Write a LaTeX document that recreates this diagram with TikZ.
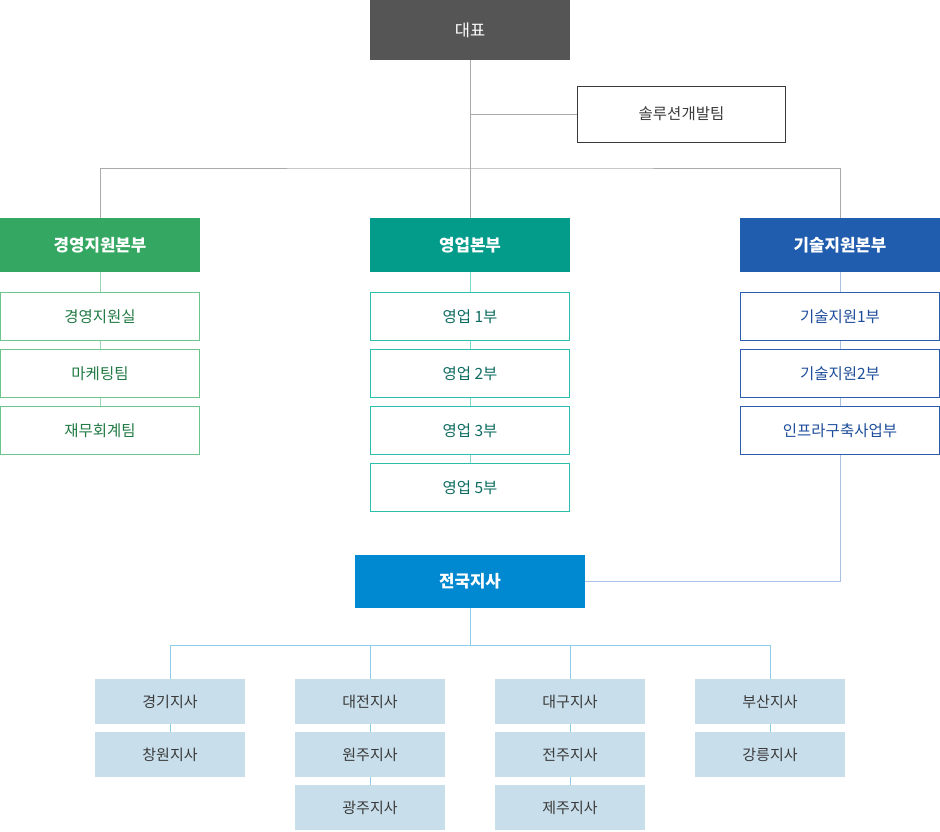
\documentclass[tikz,border=0pt]{standalone}
\usepackage{fontspec}
\setmainfont{Noto Sans CJK KR}
\usepackage{tikz}
\usepackage{xcolor}
\usetikzlibrary{positioning,calc}
\definecolor{ceobg}{HTML}{555555}
\definecolor{ink}{HTML}{3A3A3A}
\definecolor{trunk}{HTML}{AAAAAA}
\definecolor{mgmt}{HTML}{34A862}
\definecolor{mgmtln}{HTML}{6CC58C}
\definecolor{mgmttx}{HTML}{217A44}
\definecolor{sales}{HTML}{039B8A}
\definecolor{salesln}{HTML}{2CBFAE}
\definecolor{salestx}{HTML}{0C6B60}
\definecolor{tech}{HTML}{215DAE}
\definecolor{techln}{HTML}{2A5EAD}
\definecolor{techtx}{HTML}{1E4D9B}
\definecolor{techwire}{HTML}{A9C1E4}
\definecolor{branch}{HTML}{0089D1}
\definecolor{brbg}{HTML}{C8DEEB}
\definecolor{brwire}{HTML}{8DCDEA}

\begin{document}
\begin{tikzpicture}[x=1pt,y=-1pt,font=\fontsize{15.5}{17}\selectfont,
  n0/.style={rectangle,fill=ceobg,text=white,minimum width=200pt,minimum height=60pt,inner sep=0pt,
             font=\fontsize{16.5}{18}\selectfont},
  n1/.style={rectangle,draw=ink,line width=1pt,text=ink,minimum width=208pt,minimum height=56pt,inner sep=0pt},
  hd/.style={rectangle,fill=#1,text=white,minimum width=200pt,minimum height=54pt,inner sep=0pt,
             font=\fontsize{16.8}{18}\selectfont\bfseries},
  sb/.style={rectangle,draw=#1ln,fill=white,text=#1tx,line width=1pt,minimum width=199pt,minimum height=48pt,inner sep=0pt},
  br/.style={rectangle,fill=brbg,text=ink,minimum width=150pt,minimum height=45pt,inner sep=0pt,
             font=\fontsize{15}{17}\selectfont},
  wire/.style={draw=#1,line width=1pt}]
  \useasboundingbox (0,0) rectangle (940,831);

  % top
  \node[n0] (ceo) at (470,30) {대표};
  \node[n1] (sol) at (681.5,114) {솔루션개발팀};
  \coordinate (j1) at (470,168);
  \draw[wire=trunk] (ceo) -- (j1);
  \draw[wire=trunk] (ceo.south |- sol) -- (sol);

  % divisions
  \node[hd=mgmt]  (hd1) at (100,245) {경영지원본부};
  \node[hd=sales] (hd2) at (470,245) {영업본부};
  \node[hd=tech]  (hd3) at (840,245) {기술지원본부};
  \draw[wire=trunk] (hd1) |- (j1) -| (hd3);
  \draw[wire=trunk] (j1) -- (hd2);

  \foreach \t [count=\k] in {경영지원실,마케팅팀,재무회계팀}{
     \node[sb=mgmt] (m\k) at (100,316.5+57*\k-57) {\t};
     \pgfmathtruncatemacro\p{\k-1}
     \ifnum\k>1 \draw[wire=mgmtln!70] (m\p) -- (m\k); \fi
  }
  \draw[wire=mgmtln!70] (hd1) -- (m1);

  \foreach \t [count=\k] in {영업 1부,영업 2부,영업 3부,영업 5부}{
     \node[sb=sales] (s\k) at (470,316.5+57*\k-57) {\t};
     \pgfmathtruncatemacro\p{\k-1}
     \ifnum\k>1 \draw[wire=salesln!60] (s\p) -- (s\k); \fi
  }
  \draw[wire=salesln!60] (hd2) -- (s1);

  \foreach \t [count=\k] in {기술지원1부,기술지원2부,인프라구축사업부}{
     \node[sb=tech] (t\k) at (840,316.5+57*\k-57) {\t};
     \pgfmathtruncatemacro\p{\k-1}
     \ifnum\k>1 \draw[wire=techwire] (t\p) -- (t\k); \fi
  }
  \draw[wire=techwire] (hd3) -- (t1);

  % branches
  \node[hd=branch,minimum width=230pt,minimum height=53pt] (nat) at (470,581.5) {전국지사};
  \draw[wire=techwire] (t3) |- (nat);
  \coordinate (j3) at (470,645);
  \draw[wire=brwire] (nat) -- (j3);

  \foreach \t [count=\k] in {경기지사,창원지사}{
     \node[br] (a\k) at (170,701.5+53*\k-53) {\t};
     \pgfmathtruncatemacro\p{\k-1}
     \ifnum\k>1 \draw[wire=brwire] (a\p) -- (a\k); \fi
  }
  \foreach \t [count=\k] in {대전지사,원주지사,광주지사}{
     \node[br] (b\k) at (370,701.5+53*\k-53) {\t};
     \pgfmathtruncatemacro\p{\k-1}
     \ifnum\k>1 \draw[wire=brwire] (b\p) -- (b\k); \fi
  }
  \foreach \t [count=\k] in {대구지사,전주지사,제주지사}{
     \node[br] (c\k) at (570,701.5+53*\k-53) {\t};
     \pgfmathtruncatemacro\p{\k-1}
     \ifnum\k>1 \draw[wire=brwire] (c\p) -- (c\k); \fi
  }
  \foreach \t [count=\k] in {부산지사,강릉지사}{
     \node[br] (d\k) at (770,701.5+53*\k-53) {\t};
     \pgfmathtruncatemacro\p{\k-1}
     \ifnum\k>1 \draw[wire=brwire] (d\p) -- (d\k); \fi
  }
  \draw[wire=brwire] (a1) |- (j3) -| (d1);
  \draw[wire=brwire] (j3 -| b1) -- (b1);
  \draw[wire=brwire] (j3 -| c1) -- (c1);
\end{tikzpicture}
\end{document}
